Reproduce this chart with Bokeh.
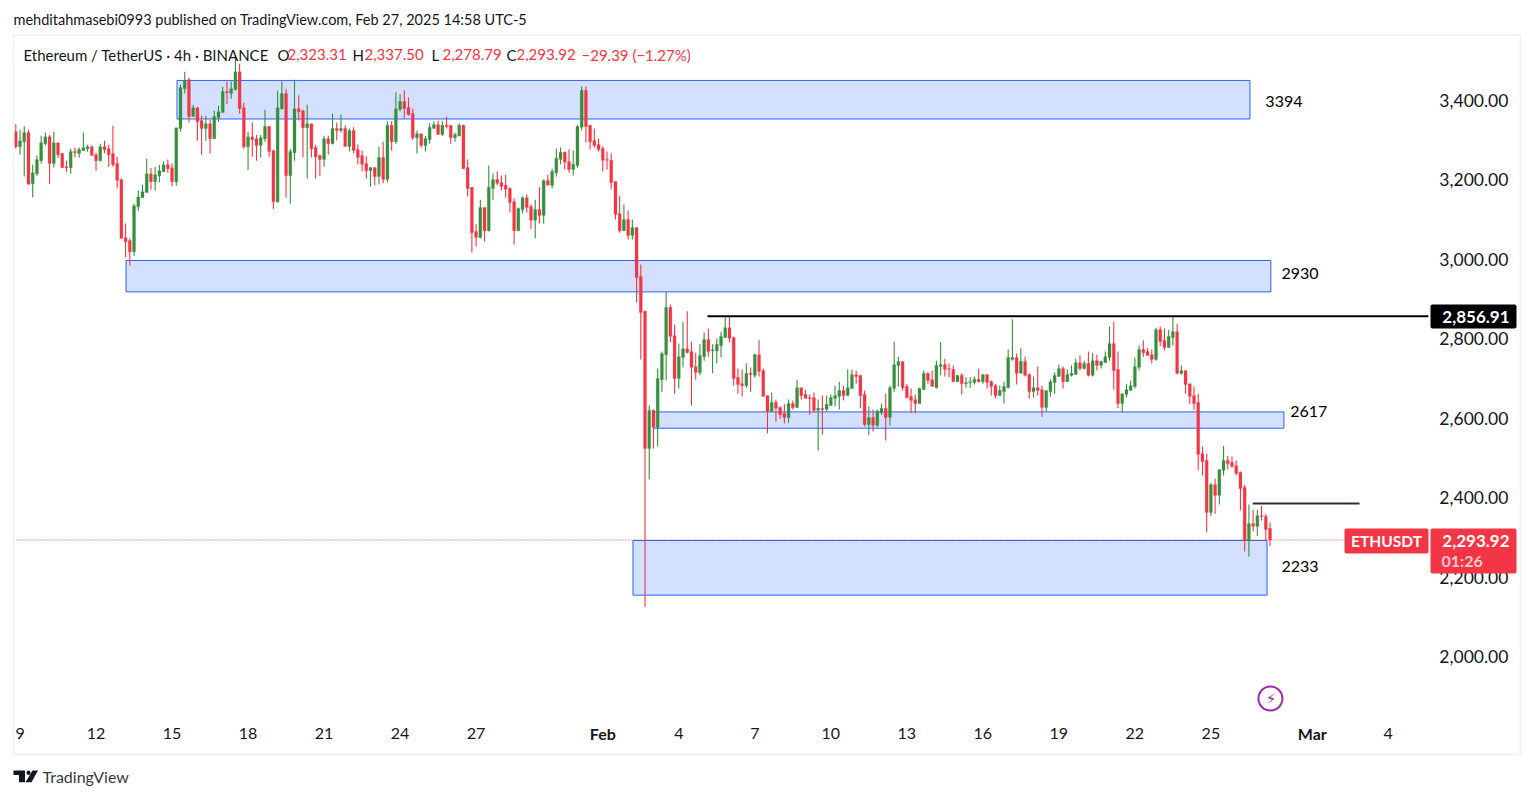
from bokeh.plotting import figure
from bokeh.embed import file_html
from bokeh.resources import INLINE
from bokeh.core.properties import value
from bokeh.models import (ColumnDataSource, LinearAxis, FixedTicker, NumeralTickFormatter, Label,
                          BoxAnnotation, PolyAnnotation, Range1d)

opens = [3321,3283,3296,3319,3190,3215,3248,3291,3308,3241,3293,3266,3233,3230,3271,3266,3273,3278,3283,3263,3248,3283,3278,3266,3241,
3200,3054,3047,3019,3132,3155,3168,3215,3195,3210,3220,3238,3230,3195,3329,3429,3452,3359,3381,3349,3329,3341,3303,3356,3369,
3422,3417,3427,3472,3381,3283,3308,3303,3286,3303,3334,3273,3145,3379,3417,3210,3268,3379,3374,3331,3341,3281,3261,3251,3303,
3291,3329,3324,3329,3284,3324,3276,3261,3241,3223,3231,3208,3256,3201,3337,3296,3377,3397,3382,3367,3306,3316,3286,3301,3329,
3339,3314,3337,3337,3306,3311,3337,3231,3181,3070,3055,3130,3072,3178,3201,3193,3186,3178,3145,3072,3125,3155,3133,3098,3125,
3110,3198,3186,3218,3251,3269,3246,3226,3236,3332,3425,3337,3299,3289,3279,3251,3249,3196,3115,3072,3100,3060,3080,2957,2869,
2524,2620,2577,2697,2760,2879,2808,2700,2753,2775,2768,2730,2715,2755,2798,2770,2770,2783,2803,2828,2803,2703,2687,2682,2713,
2708,2760,2720,2657,2617,2640,2627,2612,2602,2637,2627,2677,2660,2652,2652,2620,2625,2622,2632,2650,2655,2670,2657,2675,2710,
2708,2660,2584,2602,2582,2614,2625,2602,2675,2733,2743,2680,2655,2647,2637,2672,2713,2697,2677,2730,2735,2725,2723,2692,2708,
2687,2690,2690,2698,2692,2710,2692,2682,2657,2667,2677,2748,2753,2713,2743,2710,2667,2677,2672,2627,2667,2690,2705,2725,2692,
2708,2710,2740,2725,2738,2708,2745,2733,2740,2753,2788,2723,2637,2660,2670,2680,2728,2773,2768,2760,2748,2823,2796,2778,2803,
2818,2713,2720,2687,2657,2640,2511,2494,2363,2433,2406,2469,2494,2489,2481,2464,2426,2292,2335,2328,2355,2353,2323.31]
highs = [3340,3326,3334,3326,3238,3261,3311,3319,3313,3321,3293,3268,3248,3278,3281,3281,3319,3288,3286,3268,3291,3298,3288,3336,3258,
3203,3090,3052,3140,3173,3188,3253,3230,3233,3238,3246,3251,3241,3331,3439,3472,3457,3389,3384,3361,3361,3351,3374,3386,3434,
3447,3447,3512,3492,3394,3321,3344,3313,3313,3376,3336,3276,3424,3447,3429,3278,3452,3412,3376,3389,3341,3288,3263,3311,3311,
3367,3344,3364,3337,3329,3332,3289,3274,3259,3231,3231,3284,3296,3347,3347,3420,3415,3425,3407,3379,3324,3316,3311,3342,3347,
3349,3347,3359,3337,3319,3342,3339,3251,3181,3088,3150,3130,3236,3216,3221,3211,3213,3181,3153,3130,3158,3163,3138,3150,3181,
3201,3213,3228,3279,3281,3271,3276,3274,3337,3435,3435,3337,3329,3304,3284,3271,3266,3196,3160,3138,3123,3100,3080,2987,2871,
2632,2622,2725,2768,2919,2886,2836,2788,2843,2869,2793,2765,2786,2816,2826,2786,2801,2818,2856,2856,2806,2725,2723,2738,2728,
2763,2796,2725,2657,2665,2647,2630,2635,2647,2645,2697,2677,2672,2660,2665,2647,2657,2657,2660,2682,2692,2682,2723,2723,2720,
2708,2670,2630,2622,2622,2637,2662,2682,2793,2755,2743,2687,2675,2660,2677,2720,2715,2720,2745,2791,2750,2738,2733,2708,2713,
2703,2703,2705,2725,2710,2710,2695,2687,2682,2692,2773,2849,2763,2776,2755,2713,2705,2730,2682,2670,2698,2715,2735,2730,2723,
2733,2750,2758,2745,2768,2765,2760,2745,2768,2831,2843,2768,2662,2687,2695,2753,2783,2796,2776,2773,2828,2831,2826,2823,2856,
2838,2733,2720,2687,2680,2662,2529,2511,2438,2448,2471,2531,2506,2504,2494,2466,2433,2383,2370,2370,2380,2360,2337.5]
lows = [3279,3263,3208,3188,3156,3210,3241,3286,3190,3231,3255,3230,3220,3215,3256,3256,3273,3271,3261,3223,3246,3266,3233,3233,3178,
3052,3005,2984,3009,3122,3155,3168,3175,3173,3193,3220,3218,3183,3185,3321,3417,3344,3359,3298,3263,3298,3266,3303,3346,3369,
3391,3404,3424,3366,3278,3225,3258,3248,3256,3296,3258,3127,3142,3376,3155,3140,3248,3349,3256,3203,3256,3203,3210,3233,3263,
3289,3299,3319,3284,3271,3266,3239,3221,3203,3183,3186,3188,3191,3193,3274,3291,3372,3354,3362,3301,3266,3281,3271,3291,3329,
3314,3311,3329,3291,3296,3309,3228,3158,3017,3032,3052,3045,3070,3150,3186,3173,3155,3118,3037,3072,3115,3118,3077,3052,3090,
3090,3186,3178,3208,3239,3226,3218,3211,3231,3324,3294,3276,3281,3271,3221,3226,3176,3100,3067,3072,3050,3050,2891,2748,2126,
2446,2524,2529,2667,2695,2791,2662,2675,2728,2763,2632,2697,2708,2745,2755,2713,2738,2753,2803,2791,2682,2662,2655,2677,2667,
2702,2705,2655,2562,2617,2592,2599,2587,2589,2622,2625,2647,2650,2609,2614,2519,2559,2617,2632,2630,2622,2645,2657,2675,2687,
2625,2579,2557,2567,2577,2609,2544,2582,2667,2680,2670,2650,2614,2612,2637,2672,2687,2680,2675,2708,2705,2703,2692,2692,2660,
2677,2677,2685,2690,2687,2675,2657,2650,2657,2637,2675,2745,2685,2713,2705,2650,2652,2657,2604,2617,2655,2662,2705,2675,2692,
2705,2710,2720,2723,2705,2705,2720,2725,2740,2745,2672,2625,2614,2652,2670,2675,2720,2755,2758,2738,2745,2781,2770,2778,2783,
2710,2710,2662,2635,2622,2469,2456,2313,2355,2360,2383,2456,2471,2476,2456,2368,2265,2252,2315,2303,2343,2292,2278.79]
closes = [3283,3298,3319,3189,3218,3251,3293,3308,3241,3293,3263,3230,3230,3271,3268,3276,3281,3283,3261,3248,3283,3276,3263,3238,3198,
3052,3044,3019,3135,3157,3170,3215,3195,3213,3223,3238,3228,3195,3331,3432,3449,3359,3381,3346,3329,3341,3303,3359,3371,3422,
3419,3429,3472,3379,3283,3308,3301,3286,3306,3334,3271,3145,3381,3417,3210,3271,3379,3371,3331,3341,3278,3258,3251,3303,3291,
3329,3324,3329,3284,3324,3274,3256,3239,3223,3231,3208,3256,3201,3337,3296,3379,3397,3379,3364,3306,3316,3286,3304,3332,3339,
3314,3337,3334,3306,3314,3337,3228,3178,3067,3055,3130,3072,3181,3201,3191,3183,3176,3143,3072,3128,3155,3130,3098,3125,3110,
3198,3186,3221,3254,3269,3244,3226,3239,3334,3425,3334,3296,3286,3276,3249,3249,3193,3113,3072,3100,3060,3080,2954,2866,2524,
2620,2577,2700,2763,2879,2806,2700,2755,2775,2765,2728,2715,2758,2798,2768,2773,2786,2806,2828,2801,2700,2685,2682,2713,2710,
2760,2718,2655,2617,2640,2625,2609,2602,2637,2627,2677,2657,2650,2650,2620,2625,2622,2635,2652,2657,2670,2657,2677,2710,2705,
2657,2584,2602,2582,2617,2625,2602,2677,2735,2743,2677,2652,2645,2637,2675,2713,2695,2680,2733,2735,2723,2723,2692,2708,2687,
2690,2692,2698,2692,2710,2690,2680,2657,2670,2680,2753,2753,2713,2743,2708,2667,2677,2670,2627,2670,2692,2708,2725,2692,2710,
2713,2740,2725,2738,2708,2745,2733,2743,2755,2788,2720,2637,2662,2672,2682,2730,2773,2765,2758,2748,2823,2793,2778,2806,2818,
2713,2720,2685,2655,2637,2509,2491,2363,2433,2406,2471,2494,2486,2479,2461,2423,2292,2335,2328,2355,2353,2320,2293.92]

day_ticks = [1, 19, 37, 55, 73, 91, 109, 157, 175, 193, 211, 229, 247, 265, 283, 325]
day_labels = ["9", "12", "15", "18", "21", "24", "27", "4", "7", "10", "13", "16", "19", "22", "25", "4"]
month_ticks = [139, 307]
month_labels = ["Feb", "Mar"]
price_ticks = [2000, 2200, 2400, 2600, 2800, 3000, 3200, 3400]

zone_left = [38.17, 26.1, 151.0, 146.15]
zone_right = [292.25, 297.2, 300.3, 296.3]
zone_top = [3450, 2997, 2616, 2292.5]
zone_bottom = [3353, 2918, 2575, 2155]
zone_names = ["3394", "2930", "2617", "2233"]
zone_name_x = [295.9, 299.7, 301.8, 299.7]
zone_name_y = [3397, 2964, 2617, 2227]

UP = "#388E3C"
DOWN = "#F23645"
INK = "#131722"
FONT = "Lato"
W, H = 1525, 790

PLOT_RIGHT = 334.5
PLOT_BOTTOM = 1844.6
p = figure(width=W, height=H, output_backend="svg", toolbar_location=None,
           x_range=Range1d(-3.623, 357.5), y_range=Range1d(1663.5, 3651.1),
           min_border_left=0, min_border_right=0, min_border_top=0, min_border_bottom=0,
           x_axis_location=None, y_axis_location=None, outline_line_color=None)
p.grid.visible = False

# axes
xa = LinearAxis(fixed_location=PLOT_BOTTOM, ticker=FixedTicker(ticks=day_ticks),
                major_label_overrides={t: l for t, l in zip(day_ticks, day_labels)},
                major_tick_in=0, major_tick_out=0, minor_tick_line_color=None, axis_line_color=None,
                major_label_standoff=9, major_label_text_font=FONT, major_label_text_font_size="16px",
                major_label_text_color=INK)
p.add_layout(xa, "below")
ya = LinearAxis(fixed_location=PLOT_RIGHT, ticker=FixedTicker(ticks=price_ticks),
                formatter=NumeralTickFormatter(format="0,0.00"),
                major_tick_in=0, major_tick_out=0, minor_tick_line_color=None, axis_line_color=None,
                major_label_standoff=11, major_label_text_font=FONT, major_label_text_font_size="17.5px",
                major_label_text_color=INK)
p.add_layout(ya, "right")

# zones
p.quad(left=zone_left, right=zone_right, top=zone_top, bottom=zone_bottom,
       fill_color="#2962FF", fill_alpha=0.2, line_color="#2962FF", line_width=1)

# candles
idx = list(range(len(closes)))
colors = [UP if c >= o else DOWN for o, c in zip(opens, closes)]
src = ColumnDataSource(dict(x=idx, o=opens, h=highs, l=lows, c=closes, col=colors))
p.segment(x0="x", y0="l", x1="x", y1="h", color="col", line_width=1.1, source=src)
p.vbar(x="x", top="o", bottom="c", width=0.72, fill_color="col", line_color="col", line_width=0.2, source=src)

# last price dotted line and drawn lines
p.segment(x0=[-0.545], y0=[closes[-1]], x1=[PLOT_RIGHT], y1=[closes[-1]],
          color=DOWN, line_width=1, line_dash="1 2")
p.segment(x0=[163.8, 292.9], y0=[2856.91, 2385.6], x1=[PLOT_RIGHT, 318.2], y1=[2856.91, 2385.6],
          color=["#000000", "#2A2E39"], line_width=2)

# zone names
p.text(x=zone_name_x, y=zone_name_y, text=zone_names, text_font=value(FONT), text_font_size="16px",
       text_color="#000000", text_baseline="middle")

# lightning marker
p.scatter(x=[297.1], y=[1895], size=24, marker="circle", fill_color=None, line_color="#9C27B0", line_width=2)


def sy(py):
    return H - py


def txt(px, py, text, color=INK, size="15px", align="left", style="normal", font=FONT):
    p.add_layout(Label(x=px, y=sy(py), x_units="screen", y_units="screen", text=text,
                       text_color=color, text_font=font, text_font_size=size, text_align=align,
                       text_baseline="middle", text_font_style=style))


def box(x0, y0, x1, y1, fill=None, line=None, lw=1, radius=0):
    p.add_layout(BoxAnnotation(left=x0, right=x1, top=sy(y0), bottom=sy(y1),
                               left_units="screen", right_units="screen", top_units="screen", bottom_units="screen",
                               fill_color=fill, fill_alpha=1 if fill else 0, line_color=line, line_width=lw,
                               line_alpha=1 if line else 0, border_radius=radius))


txt(1270.5, 698, "\u26a1", color="#9C27B0", size="15px", align="center", font="DejaVu Sans")

# frame of the widget
box(13, 34.5, 1520, 754, line="#F0F3FA", lw=2)

# header and legend
txt(13, 19, "mehditahmasebi0993 published on TradingView.com, Feb 27, 2025 14:58 UTC-5", size="14.5px")
txt(23, 54, "Ethereum / TetherUS \u00b7 4h \u00b7 BINANCE")
for x0, letter, x1, val in [(277, "O", 287, "2,323.31"), (352, "H", 364, "2,337.50"),
                            (431, "L", 442, "2,278.79"), (506, "C", 516, "2,293.92")]:
    txt(x0, 54, letter)
    txt(x1, 54, val, color=DOWN)
txt(581, 54, "\u221229.39 (\u22121.27%)", color=DOWN)

# month labels in bold
for t, l in zip(month_ticks, month_labels):
    p.add_layout(Label(x=t, y=sy(733), x_units="data", y_units="screen", text=l, text_align="center",
                       text_baseline="middle", text_font=FONT, text_font_size="16px",
                       text_font_style="bold", text_color=INK))

# price tags
box(1430, 304, 1516, 328, fill="#000000", radius=2)
txt(1509, 316, "2,856.91", color="#FFFFFF", size="17px", align="right", style="bold")
box(1344, 528, 1428, 553, fill=DOWN, radius=2)
txt(1386, 540.5, "ETHUSDT", color="#FFFFFF", size="15.5px", align="center", style="bold")
box(1430, 528, 1516, 573, fill=DOWN, radius=2)
txt(1509, 540, "2,293.92", color="#FFFFFF", size="17px", align="right", style="bold")
txt(1441, 560, "01:26", color="#FBC9CE", size="16px", style="bold")

# TradingView mark and name
box(13, 770, 24.5, 774.5, fill="#131722")
box(18.5, 774.5, 24.5, 781.7, fill="#131722")
box(26, 770, 30, 774.5, fill="#131722", radius=2)
p.add_layout(PolyAnnotation(xs=[32, 37.5, 31, 25], ys=[sy(770), sy(770), sy(781.7), sy(781.7)],
                            xs_units="screen", ys_units="screen", fill_color="#131722", fill_alpha=1, line_alpha=0))
txt(42, 776, "TradingView", color="#363A45", size="16px")

open("out.html", "w").write(file_html(p, INLINE))
